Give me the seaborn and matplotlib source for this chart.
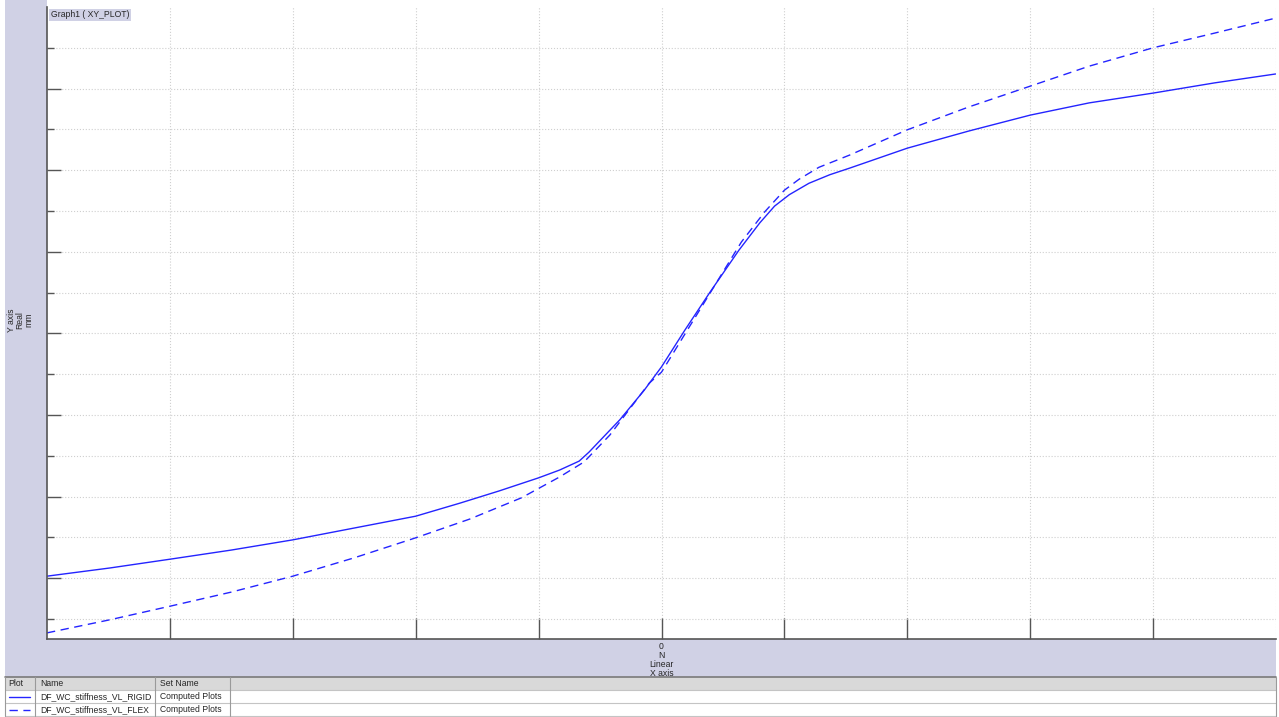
import numpy as np
import pandas as pd
import matplotlib
matplotlib.use('Agg')
import matplotlib.pyplot as plt
from matplotlib.patches import Rectangle
from matplotlib.lines import Line2D
import seaborn as sns

# curve values (x in N grid units, y in mm grid units)
x_rigid = [-5.0, -4.49, -3.99, -3.50, -3.0, -2.50, -2.0, -1.64, -1.32, -1.0, -0.83,
           -0.67, -0.59, -0.34, -0.14, 0.0, 0.19, 0.39, 0.63, 0.80, 0.92, 1.04,
           1.20, 1.37, 1.53, 2.0, 2.50, 3.0, 3.48, 4.0, 4.50, 5.0]
y_rigid = [1.05, 1.25, 1.47, 1.69, 1.94, 2.23, 2.52, 2.84, 3.14, 3.46, 3.65,
           3.87, 4.09, 4.88, 5.61, 6.18, 7.08, 7.99, 9.04, 9.71, 10.12, 10.40,
           10.68, 10.89, 11.05, 11.54, 11.96, 12.35, 12.65, 12.89, 13.14, 13.36]
x_flex = [-5.0, -4.49, -3.99, -3.50, -3.0, -2.50, -2.0, -1.56, -1.14, -0.83, -0.63,
          -0.42, -0.10, 0.0, 0.31, 0.65, 0.84, 1.0, 1.12, 1.28, 1.53, 2.0, 2.50,
          3.0, 3.48, 4.0, 4.50, 5.0]
y_flex = [-0.34, -0.02, 0.32, 0.66, 1.05, 1.50, 1.99, 2.45, 2.97, 3.48, 3.85,
          4.51, 5.78, 6.05, 7.57, 9.24, 9.98, 10.51, 10.78, 11.07, 11.37, 11.99, 12.55,
          13.06, 13.55, 14.0, 14.36, 14.73]

names = ['DF_WC_stiffness_VL_RIGID', 'DF_WC_stiffness_VL_FLEX']
set_name = 'Computed Plots'

sns.set_style('white')
plt.rcParams['font.family'] = ['Liberation Sans', 'DejaVu Sans']

W, H = 1279, 717
LAV = '#d0d1e5'
BLUE = '#2424ff'
FS = 6.2


def fx(px):
    return px / W


def fy(py):
    return 1 - py / H


fig = plt.figure(figsize=(W / 100, H / 100), dpi=100)
fig.patch.set_facecolor('white')

# lavender frame: left strip and bottom band (behind the axes)
fig.patches.append(Rectangle((fx(5), fy(677)), fx(47) - fx(5), fy(0) - fy(677),
                             transform=fig.transFigure, facecolor=LAV, edgecolor='none', zorder=-5))
fig.patches.append(Rectangle((fx(5), fy(677)), fx(1276) - fx(5), fy(639) - fy(677),
                             transform=fig.transFigure, facecolor=LAV, edgecolor='none', zorder=-5))

ax = fig.add_axes([fx(47), fy(639), fx(1276) - fx(47), fy(7) - fy(639)])
ax.set_facecolor('white')
ax.set_zorder(1)

df = pd.concat([
    pd.DataFrame({'x': x_rigid, 'y': y_rigid, 'plot': names[0]}),
    pd.DataFrame({'x': x_flex, 'y': y_flex, 'plot': names[1]}),
])
sns.lineplot(data=df, x='x', y='y', hue='plot', style='plot',
             palette=[BLUE, BLUE], dashes=[(1, 0), (6, 4)],
             sort=False, estimator=None, linewidth=1.0, legend=False, ax=ax)

ax.set_xlim(-5, 5)
ax.set_ylim(-0.49, 15)
ax.set_xticks(range(-4, 5))
ax.set_xticklabels(['0' if v == 0 else '' for v in range(-4, 5)])
ax.set_yticks(range(1, 15, 2))
ax.set_yticks(range(0, 16, 2), minor=True)
ax.set_yticklabels([])
ax.tick_params(axis='x', direction='in', length=15, width=1, color='#555555',
               pad=2, labelsize=FS, bottom=True)
ax.tick_params(axis='y', which='major', direction='in', length=10, width=1,
               color='#555555', left=True)
ax.tick_params(axis='y', which='minor', direction='in', length=5, width=1,
               color='#555555', left=True)
ax.grid(True, which='both', ls=':', color='#cfcfcf', lw=0.8)
ax.axvline(5, ls=':', color='#cfcfcf', lw=0.8)
ax.set_xlabel('N\nLinear\nX axis', fontsize=FS, labelpad=0, linespacing=1.0)
ax.set_ylabel('')
for side in ['top', 'right']:
    ax.spines[side].set_visible(False)
for side in ['left', 'bottom']:
    ax.spines[side].set_color('#555555')
    ax.spines[side].set_linewidth(1.2)

ax.text(0.003, 0.995, 'Graph1 ( XY_PLOT)', transform=ax.transAxes, fontsize=FS,
        ha='left', va='top', bbox=dict(facecolor=LAV, edgecolor='none', pad=1.0))

fig.text(fx(20), fy(320), 'Y axis\nReal\nmm', rotation=90, fontsize=FS,
         ha='center', va='center', linespacing=1.0)

# table below the chart
rows = [677, 690, 703, 716]
cols = [5, 35, 155, 230, 1276]
fig.patches.append(Rectangle((fx(5), fy(690)), fx(1276) - fx(5), fy(677) - fy(690),
                             transform=fig.transFigure, facecolor='#d9d9d9',
                             edgecolor='none', zorder=1))
for i, r in enumerate(rows):
    fig.lines.append(Line2D([fx(5), fx(1276)], [fy(r), fy(r)], transform=fig.transFigure,
                            color='#7a7a7a' if i == 0 else '#c4c4c4', lw=1.2 if i == 0 else 0.8))
for c in cols:
    fig.lines.append(Line2D([fx(c), fx(c)], [fy(677), fy(716)], transform=fig.transFigure,
                            color='#9a9a9a', lw=0.8))

fig.text(fx(8), fy(684), 'Plot', fontsize=FS, ha='left', va='center')
fig.text(fx(40), fy(684), 'Name', fontsize=FS, ha='left', va='center')
fig.text(fx(160), fy(684), 'Set Name', fontsize=FS, ha='left', va='center')
for i, (nm, ls) in enumerate(zip(names, ['-', (0, (6, 4))])):
    yc = (rows[i + 1] + rows[i + 2]) / 2
    fig.lines.append(Line2D([fx(9), fx(30)], [fy(yc), fy(yc)], transform=fig.transFigure,
                            color=BLUE, lw=1.0, ls=ls))
    fig.text(fx(40), fy(yc), nm, fontsize=FS, ha='left', va='center')
    fig.text(fx(160), fy(yc), set_name, fontsize=FS, ha='left', va='center')

fig.savefig('out.png', dpi=100)
